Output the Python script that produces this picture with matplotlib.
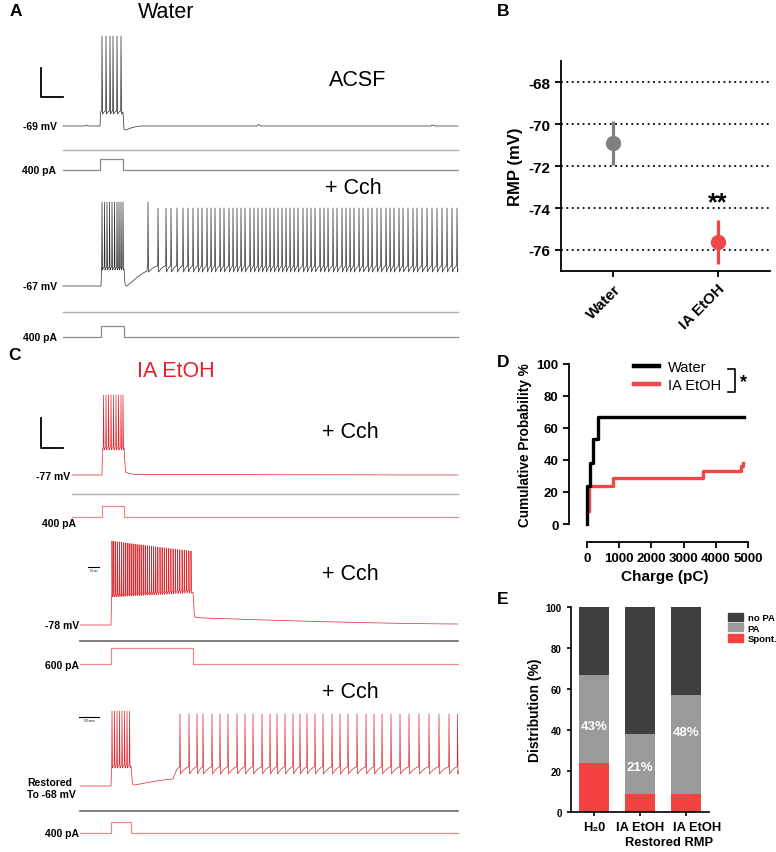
import numpy as np
import matplotlib
matplotlib.use('Agg')
import matplotlib.pyplot as plt
from matplotlib.lines import Line2D
from matplotlib.patches import Patch

plt.rcParams['font.family'] = ['Liberation Sans', 'DejaVu Sans']

W, H = 776, 853
fig = plt.figure(figsize=(W / 100, H / 100), dpi=100)

# ======================= DATA =======================
# Panel B: resting membrane potential
rmp_groups = ['Water', 'IA EtOH']
rmp_mean = [-70.9, -75.6]
rmp_sem = [1.05, 1.05]

# Panel D: cumulative probability vs charge
water_charge = [0, 0, 90, 175, 350, 4880]
water_cum = [0, 24, 38, 53, 67, 67]
etoh_charge = [60, 60, 800, 3610, 4770, 4840]
etoh_cum = [8, 24, 29, 33, 36, 38]

# Panel E: distribution
dist_groups = ['H\u20820', 'IA EtOH', 'IA EtOH']
dist_sub = 'Restored RMP'
spont = [24, 9, 9]
pa = [43, 29, 48]
no_pa = [33, 62, 43]
pa_labels = ['43%', '21%', '48%']
pa_label_y = [42, 22, 39]

# Traces: spike times (s)
a1_spikes = [3.9, 4.3, 4.7, 5.0, 5.4, 5.8]
a1_bumps = [(2.3, 1.0), (19.5, 1.5), (36.9, 1.0)]
a2_step_spikes = [3.9, 4.15, 4.4, 4.65, 4.9, 5.15, 5.4, 5.6, 5.8, 6.0]
a2_post_spikes = [8.5, 9.5, 10.3, 10.8, 11.4, 12.0, 12.5, 13.0, 13.5, 13.9, 14.4, 14.8,
                  15.2, 15.7, 16.1, 16.6, 17.0, 17.4, 17.8, 18.2, 18.7, 19.1, 19.5, 19.9,
                  20.3, 20.7, 21.1, 21.5, 21.9, 22.3, 22.7, 23.1, 23.5, 24.0, 24.4, 24.8,
                  25.2, 25.7, 26.1, 26.5, 27.0, 27.4, 27.9, 28.3, 28.7, 29.1, 29.6, 30.0,
                  30.5, 30.9, 31.4, 31.8, 32.3, 32.7, 33.1, 33.6, 34.0, 34.5, 35.0, 35.4,
                  35.9, 36.4, 36.9, 37.4, 37.9, 38.4, 38.9, 39.4]
c1_spikes = [3.15, 3.4, 3.65, 3.9, 4.15, 4.4, 4.65, 4.9, 5.1]
c2_spikes = [3.2, 3.38, 3.57, 3.76, 3.95, 4.14, 4.33, 4.52, 4.72, 4.91, 5.11, 5.31,
             5.51, 5.71, 5.91, 6.11, 6.32, 6.52, 6.73, 6.94, 7.15, 7.36, 7.57, 7.78,
             8.0, 8.21, 8.43, 8.65, 8.87, 9.09, 9.31, 9.53, 9.76, 9.98, 10.21, 10.43,
             10.66, 10.89, 11.1]
c3_step_spikes = [3.2, 3.45, 3.7, 3.95, 4.2, 4.45, 4.7, 4.95]
c3_post_spikes = [10.0, 10.9, 11.7, 12.3, 13.2, 14.0, 14.8, 15.7, 16.5, 17.3, 18.2, 19.0,
                  19.7, 20.5, 21.3, 22.0, 22.7, 23.5, 24.3, 25.2, 26.0, 26.8, 27.7, 28.6,
                  29.4, 30.2, 31.1, 32.0, 32.9, 33.9, 34.9, 35.9, 36.9, 37.75]

# current steps: (onset s, offset s, amplitude pA)
a1_step = (3.7, 6.0, 400)
a2_step = (3.8, 6.1, 400)
c1_step = (3.0, 5.2, 400)
c2_step = (3.1, 11.3, 600)
c3_step = (3.1, 5.1, 400)

# ======================= HELPERS =======================
def fx(x):
    return x / W


def fy(y):
    return 1 - y / H


def px_axes(x0, y0, x1, y1):
    return fig.add_axes([fx(x0), fy(y1), (x1 - x0) / W, (y1 - y0) / H])


def fig_line(xs, ys, **kw):
    fig.add_artist(Line2D([fx(x) for x in xs], [fy(y) for y in ys],
                          transform=fig.transFigure, **kw))


def seg(pts, t1, v1, n=1, kind='lin', p=2.0):
    t0, v0 = pts[-1]
    if n <= 1:
        pts.append((t1, v1))
        return
    for f in np.linspace(0, 1, n + 1)[1:]:
        if kind == 'dec':
            g = 1 - (1 - f) ** p
        elif kind == 'acc':
            g = f ** p
        else:
            g = f
        pts.append((t0 + (t1 - t0) * f, v0 + (v1 - v0) * g))


def spikes(pts, times, thr, peak, ahp, rise=0.03, fall=0.05, n=8, p=1.7):
    m = len(times)
    thr = np.broadcast_to(np.asarray(thr, float), (m,))
    peak = np.broadcast_to(np.asarray(peak, float), (m,))
    ahp = np.broadcast_to(np.asarray(ahp, float), (m,))
    for k, tk in enumerate(times):
        seg(pts, tk - rise, thr[k], n=n, kind='dec', p=p)
        pts.append((tk, peak[k]))
        pts.append((tk + fall, ahp[k]))


def bumps(pts, blist, vb):
    for tb, amp in blist:
        seg(pts, tb - 0.1, vb)
        pts.append((tb, vb + amp))
        pts.append((tb + 0.3, vb))


def volt_axes(x0, x1, yb, vb, dur):
    top, bottom = yb - 100, yb + 10
    ax = px_axes(x0, top, x1, bottom)
    ax.set_xlim(0, dur)
    ax.set_ylim(vb - (bottom - yb), vb + (yb - top))
    ax.axis('off')
    return ax


def curr_axes(x0, x1, yb, dur, step, color):
    pa_per_px = 38.0
    top, bottom = yb - 20, yb + 4
    ax = px_axes(x0, top, x1, bottom)
    ax.set_xlim(0, dur)
    ax.set_ylim(-(bottom - yb) * pa_per_px, (yb - top) * pa_per_px)
    ax.axis('off')
    on, off, amp = step
    ax.plot([0, on, on, off, off, dur], [0, 0, amp, amp, 0, 0], color=color, lw=0.9,
            clip_on=False)
    return ax


def draw(ax, pts, color):
    t, v = zip(*pts)
    ax.plot(t, v, color=color, lw=0.5, clip_on=False)


BLK = '#2a2a2a'
RED = '#e0242c'
RED_I = '#f08a8a'
GRAY_I = '#8c8c8c'

# ======================= PANEL A =======================
fig.text(fx(10), fy(12), 'A', fontsize=12.5, fontweight='bold', va='center', ha='left')
fig.text(fx(166), fy(13), 'Water', fontsize=15.5, va='center', ha='center')
fig.text(fx(358), fy(80), 'ACSF', fontsize=15.5, va='center', ha='center')
fig.text(fx(353), fy(188), '+ Cch', fontsize=15.5, va='center', ha='center')
fig_line([41, 41, 63], [69, 98, 98], color='black', lw=1.3)

# A1
dur = 39.5
ax = volt_axes(63, 458, 127, -69, dur)
pts = [(0, -69)]
bumps(pts, a1_bumps[:1], -69)
seg(pts, a1_step[0], -69)
pts.append((a1_step[0] + 0.05, -55))
spikes(pts, a1_spikes, thr=-54, peak=21, ahp=-57)
seg(pts, a1_step[1], -55)
pts.append((a1_step[1] + 0.1, -72))
seg(pts, a1_step[1] + 0.3, -73, n=4, kind='dec')
seg(pts, 8.0, -69, n=15, kind='dec')
bumps(pts, a1_bumps[1:], -69)
seg(pts, dur, -69)
draw(ax, pts, BLK)
fig_line([63, 458], [151, 151], color='#b0b0b0', lw=1.0)
curr_axes(63, 458, 171, dur, a1_step, GRAY_I)
fig.text(fx(57), fy(127), '-69 mV', fontsize=7.5, fontweight='bold', ha='right', va='center')
fig.text(fx(56), fy(171), '400 pA', fontsize=7.5, fontweight='bold', ha='right', va='center')

# A2
ax = volt_axes(63, 458, 287, -67, dur)
pts = [(0, -67)]
seg(pts, a2_step[0], -67)
pts.append((a2_step[0] + 0.05, -49))
spikes(pts, a2_step_spikes, thr=-48, peak=17, ahp=-51)
seg(pts, a2_step[1], -50)
pts.append((a2_step[1] + 0.1, -65))
seg(pts, a2_step[1] + 0.3, -67, n=4, kind='dec')
seg(pts, 8.4, -52, n=10, kind='dec', p=1.2)
post_peaks = np.full(len(a2_post_spikes), 11.0)
post_peaks[0] = 17
spikes(pts, a2_post_spikes, thr=-47, peak=post_peaks, ahp=-53)
seg(pts, dur, -50, n=4, kind='dec')
draw(ax, pts, BLK)
fig_line([63, 458], [313, 313], color='#b0b0b0', lw=1.0)
curr_axes(63, 458, 338, dur, a2_step, GRAY_I)
fig.text(fx(57), fy(287), '-67 mV', fontsize=7.5, fontweight='bold', ha='right', va='center')
fig.text(fx(57), fy(338), '400 pA', fontsize=7.5, fontweight='bold', ha='right', va='center')

# ======================= PANEL C =======================
fig.text(fx(8), fy(356), 'C', fontsize=12.5, fontweight='bold', va='center', ha='left')
fig.text(fx(176), fy(372), 'IA EtOH', fontsize=15.5, va='center', ha='center', color='#e8202a')
fig.text(fx(350), fy(433), '+ Cch', fontsize=15.5, va='center', ha='center')
fig.text(fx(350), fy(575), '+ Cch', fontsize=15.5, va='center', ha='center')
fig.text(fx(350), fy(693), '+ Cch', fontsize=15.5, va='center', ha='center')
fig_line([41, 41, 63], [419, 449, 449], color='black', lw=1.3)

# C1
dur = 38.6
ax = volt_axes(72, 458, 476, -77, dur)
pts = [(0, -77)]
seg(pts, c1_step[0], -77)
pts.append((c1_step[0] + 0.05, -51))
spikes(pts, c1_spikes, thr=-49, peak=3, ahp=-52)
seg(pts, c1_step[1], -50)
pts.append((c1_step[1] + 0.15, -74))
seg(pts, c1_step[1] + 1.3, -76.5, n=6, kind='dec')
seg(pts, dur, -77)
draw(ax, pts, RED)
fig_line([72, 458], [495, 495], color='#b0b0b0', lw=1.0)
curr_axes(72, 458, 518, dur, c1_step, RED_I)
fig.text(fx(70), fy(477), '-77 mV', fontsize=7.5, fontweight='bold', ha='right', va='center')
fig.text(fx(76), fy(524), '400 pA', fontsize=7.5, fontweight='bold', ha='right', va='center')

# C2
dur = 37.8
ax = volt_axes(80, 458, 626, -78, dur)
pts = [(0, -78)]
seg(pts, c2_step[0], -78)
pts.append((c2_step[0] + 0.05, -50))
m = len(c2_spikes)
spikes(pts, c2_spikes, thr=np.linspace(-48, -43, m), peak=np.linspace(6, -4, m),
       ahp=np.linspace(-50, -46, m), rise=0.02, fall=0.04, n=5)
seg(pts, c2_step[1], -45)
pts.append((c2_step[1] + 0.15, -70))
seg(pts, c2_step[1] + 1.2, -71, n=5, kind='dec')
seg(pts, dur, -77, n=30, kind='dec', p=1.5)
draw(ax, pts, RED)
fig_line([80, 458], [642, 642], color='#6a6a6a', lw=1.2)
curr_axes(80, 458, 665, dur, c2_step, RED_I)
fig.text(fx(79), fy(626), '-78 mV', fontsize=7.5, fontweight='bold', ha='right', va='center')
fig.text(fx(79), fy(666), '600 pA', fontsize=7.5, fontweight='bold', ha='right', va='center')
fig_line([88, 99], [568, 568], color='black', lw=0.8)
fig.text(fx(93.5), fy(571), '10 sec', fontsize=1.8, ha='center', va='center')

# C3
ax = volt_axes(80, 458, 787, -68, dur)
pts = [(0, -68)]
seg(pts, c3_step[0], -68)
pts.append((c3_step[0] + 0.05, -49))
spikes(pts, c3_step_spikes, thr=-47, peak=7, ahp=-50)
seg(pts, c3_step[1], -48)
pts.append((c3_step[1] + 0.15, -66))
seg(pts, c3_step[1] + 0.4, -67, n=4, kind='dec')
seg(pts, 9.3, -61, n=10, kind='dec', p=1.3)
spikes(pts, c3_post_spikes, thr=-49, peak=4, ahp=-56, n=10)
seg(pts, dur, -53, n=3)
draw(ax, pts, RED)
fig_line([80, 458], [812, 812], color='#6a6a6a', lw=1.2)
curr_axes(80, 458, 834, dur, c3_step, RED_I)
fig.text(fx(27), fy(783), 'Restored', fontsize=7.5, fontweight='bold', ha='left', va='center')
fig.text(fx(27), fy(795), 'To -68 mV', fontsize=7.5, fontweight='bold', ha='left', va='center')
fig.text(fx(79), fy(834), '400 pA', fontsize=7.5, fontweight='bold', ha='right', va='center')
fig_line([79, 99], [718, 718], color='black', lw=0.8)
fig.text(fx(89), fy(721), '500 msec', fontsize=1.8, ha='center', va='center')


# ======================= PANEL B =======================
def prism(ax, lw=1.3):
    for s in ['top', 'right']:
        ax.spines[s].set_visible(False)
    for s in ['left', 'bottom']:
        ax.spines[s].set_linewidth(lw)
    ax.tick_params(width=lw, length=4, direction='out')


fig.text(fx(497), fy(12), 'B', fontsize=12.5, fontweight='bold', va='center', ha='left')
axB = px_axes(561, 62, 770, 272)
prism(axB)
axB.set_xlim(-0.5, 1.5)
axB.set_ylim(-77, -67)
yt = [-68, -70, -72, -74, -76]
for y in yt:
    axB.axhline(y, color='black', ls=(0, (1, 2)), lw=1.3, zorder=1)
axB.set_yticks(yt)
axB.set_yticklabels([str(v) for v in yt], fontsize=11, fontweight='bold')
axB.set_xticks([0, 1])
axB.set_xticklabels(rmp_groups, fontsize=11, fontweight='bold', rotation=45, ha='right',
                    rotation_mode='anchor')
colsB = ['#7f7f7f', '#f0464a']
for i in range(2):
    axB.errorbar(i, rmp_mean[i], yerr=rmp_sem[i], fmt='o', color=colsB[i], ms=10,
                 elinewidth=2.3, capsize=0, zorder=3)
axB.text(1, -73.75, '**', fontsize=18, fontweight='bold', ha='center', va='center')
axB.set_ylabel('RMP (mV)', fontsize=12, fontweight='bold', labelpad=4)

# ======================= PANEL D =======================
fig.text(fx(497), fy(363), 'D', fontsize=12.5, fontweight='bold', va='center', ha='left')
axD = px_axes(569, 365, 760, 525)
prism(axD)
axD.set_xlim(-559, 5373)
axD.set_ylim(0, 100)
axD.spines['bottom'].set_position(('outward', 13))
axD.spines['bottom'].set_bounds(0, 5000)
axD.set_xticks([0, 1000, 2000, 3000, 4000, 5000])
axD.set_xticklabels(['0', '1000', '2000', '3000', '4000', '5000'], fontsize=9.5,
                    fontweight='bold')
axD.set_yticks([0, 20, 40, 60, 80, 100])
axD.set_yticklabels(['0', '20', '40', '60', '80', '100'], fontsize=9.5, fontweight='bold')
axD.plot(water_charge, water_cum, drawstyle='steps-post', color='black', lw=2.4,
         clip_on=False, zorder=3)
axD.plot(etoh_charge, etoh_cum, drawstyle='steps-post', color='#f04848', lw=2.4,
         clip_on=False, zorder=2)
axD.set_xlabel('Charge (pC)', fontsize=11, fontweight='bold', labelpad=3)
axD.set_ylabel('Cumulative Probability %', fontsize=9.8, fontweight='bold', labelpad=3)
leg = axD.legend(handles=[Line2D([], [], color='black', lw=3.2),
                          Line2D([], [], color='#f04848', lw=3.2)],
                 labels=['Water', 'IA EtOH'], loc='upper left',
                 bbox_to_anchor=(0.31, 1.06), frameon=False, fontsize=10.5,
                 handlelength=1.7, handletextpad=0.6, labelspacing=0.25, borderaxespad=0)
axD.plot([0.83, 0.868, 0.868, 0.83], [0.969, 0.969, 0.825, 0.825], color='black', lw=1.2,
         transform=axD.transAxes, clip_on=False)
axD.text(0.915, 0.89, '*', fontsize=13, fontweight='bold', ha='center', va='center',
         transform=axD.transAxes)

# ======================= PANEL E =======================
fig.text(fx(497), fy(599), 'E', fontsize=12.5, fontweight='bold', va='center', ha='left')
axE = px_axes(571, 608, 709, 813)
prism(axE, lw=1.2)
axE.set_xlim(-0.5, 2.5)
axE.set_ylim(0, 100)
xE = np.arange(len(dist_groups))
c_sp, c_pa, c_no = '#f44242', '#9a9a9a', '#3f3f3f'
axE.bar(xE, spont, width=0.65, color=c_sp)
axE.bar(xE, pa, width=0.65, bottom=spont, color=c_pa)
axE.bar(xE, no_pa, width=0.65, bottom=np.add(spont, pa), color=c_no)
for i in range(len(xE)):
    axE.text(xE[i], pa_label_y[i], pa_labels[i], color='white', fontsize=9.5,
             fontweight='bold', ha='center', va='center')
axE.set_yticks([0, 20, 40, 60, 80, 100])
axE.set_yticklabels(['0', '20', '40', '60', '80', '100'], fontsize=7, fontweight='bold')
axE.set_xticks(xE)
axE.set_xticklabels(dist_groups[:2] + [''], fontsize=9.3, fontweight='bold')
axE.tick_params(axis='both', length=3)
fig.text(fx(697), fy(828), dist_groups[2], fontsize=9.3, fontweight='bold', ha='center',
         va='center')
fig.text(fx(669), fy(843), dist_sub, fontsize=9.3, fontweight='bold', ha='center',
         va='center')
axE.set_ylabel('Distribution (%)', fontsize=10, fontweight='bold', labelpad=3)
axE.legend(handles=[Patch(color=c_no), Patch(color=c_pa), Patch(color=c_sp)],
           labels=['no PA', 'PA', 'Spont.'], loc='upper left', bbox_to_anchor=(1.11, 0.99),
           frameon=False, prop={'size': 6.8, 'weight': 'bold'}, handlelength=1.6,
           handleheight=0.9, handletextpad=0.5, labelspacing=0.15, borderaxespad=0)

fig.savefig('out.png', dpi=100)
